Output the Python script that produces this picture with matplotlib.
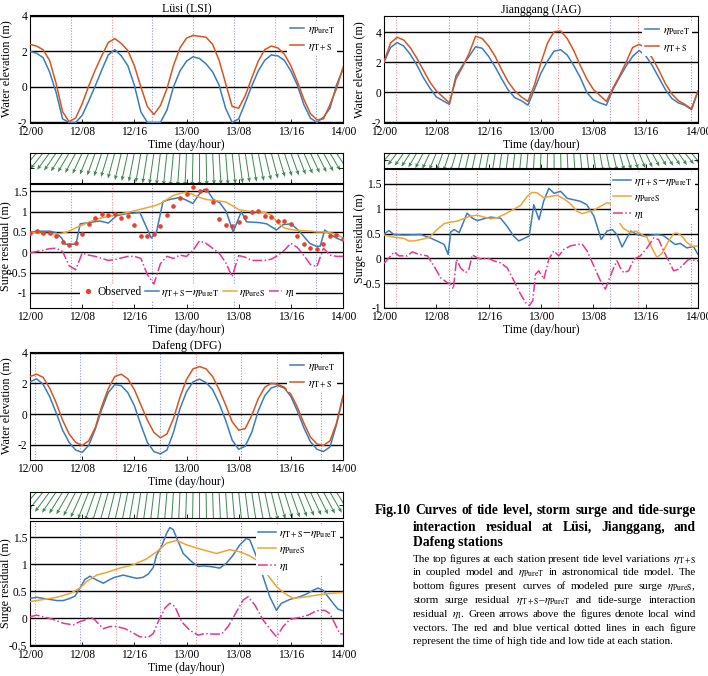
import matplotlib
matplotlib.use('Agg')
import matplotlib.pyplot as plt

plt.rcParams['font.family'] = ['Liberation Serif', 'DejaVu Serif']
plt.rcParams['mathtext.fontset'] = 'stix'
plt.rcParams['axes.unicode_minus'] = False

# ---------------- data ----------------
HOURS = list(range(49))
XTICKS = [0, 8, 16, 24, 32, 40, 48]
XTICKLABELS = ['12/00', '12/08', '12/16', '13/00', '13/08', '13/16', '14/00']

# Lusi tide
lusi_pureT = [2.0,1.9,1.65,0.85,-0.3,-1.8,-2.0,-2.0,-1.6,-0.8,0.05,0.95,1.8,2.1,1.75,1.2,0.1,-1.4,-2.0,-2.0,
              -2.0,-1.3,0.0,0.9,1.45,1.7,1.6,1.3,0.85,0.1,-1.2,-2.0,-1.8,-0.9,0.05,0.9,1.5,1.8,1.75,1.5,
              0.9,0.1,-1.0,-1.75,-2.0,-1.7,-1.2,0.1,1.0]
lusi_TS = [2.4,2.3,2.1,1.5,0.2,-1.4,-1.95,-1.75,-0.95,0.05,0.95,1.75,2.5,2.72,2.45,2.05,1.2,0.0,-1.1,-1.55,
           -1.05,-0.1,1.2,2.2,2.75,2.9,2.85,2.8,2.4,1.5,0.2,-1.1,-1.2,-0.5,0.5,1.45,2.1,2.3,2.2,1.85,
           1.2,0.3,-0.7,-1.5,-1.85,-1.8,-1.0,-0.1,1.1]
lusi_high = [12.5, 25.0, 37.6]
lusi_low = [6.3, 18.7, 31.3, 43.8]

# Lusi surge
lusi_res_t = [0,1.0,3.1,4.0,4.85,5.4,7.05,7.7,9.0,10.7,12.0,13.3,14.8,16.85,17.9,18.6,19.4,20.4,21.45,23.0,
              24.0,25.0,25.8,26.7,27.3,28.1,29.1,30.1,31.15,32.4,33.2,35.2,36.3,37.8,38.8,40.1,41.4,42.9,43.9,44.5,
              45.2,46.0,47.0,48.0]
lusi_res = [0.48,0.52,0.52,0.48,0.35,0.2,0.2,0.7,0.73,0.77,0.72,0.9,0.95,0.98,0.6,0.35,0.5,1.25,1.3,1.35,
            1.28,1.2,1.4,1.55,1.5,1.3,1.22,1.0,0.5,1.0,0.75,0.73,0.7,0.55,0.68,0.7,0.5,0.22,0.15,0.15,
            0.55,0.45,0.35,0.28]
lusi_pureS = [0.48,0.48,0.47,0.46,0.45,0.47,0.52,0.6,0.67,0.74,0.8,0.85,0.88,0.92,0.95,0.98,1.02,1.06,1.1,1.14,
              1.2,1.3,1.4,1.45,1.48,1.42,1.35,1.3,1.28,1.26,1.24,1.15,1.05,1.02,1.0,1.0,0.98,0.92,0.72,0.6,
              0.56,0.54,0.53,0.52,0.5,0.5,0.48,0.45,0.35]
lusi_I = [-0.02,0.02,0.05,0.09,0.1,0.02,-0.33,-0.43,-0.02,-0.07,-0.1,-0.15,-0.2,-0.18,-0.14,-0.1,-0.1,-0.15,-0.55,-0.78,
          -0.28,-0.1,-0.15,-0.07,-0.1,0.05,0.28,0.22,0.1,-0.02,-0.25,-0.6,-0.08,-0.12,-0.2,-0.2,-0.2,-0.17,-0.08,0.05,
          0.22,0.12,-0.08,-0.3,-0.35,0.1,-0.07,-0.1,-0.1]
lusi_obs = [0.48,0.52,0.47,0.47,0.39,0.25,0.18,0.23,0.44,0.70,0.84,0.93,0.92,0.93,0.85,0.89,0.66,0.41,0.41,0.45,
            0.65,0.91,1.14,1.34,1.44,1.60,1.51,1.54,1.23,0.81,0.67,0.65,0.74,0.88,1.0,1.01,0.90,0.88,0.77,0.77,
            0.70,0.40,0.20,0.10,0.07,0.20,0.40,0.43,0.33]
lusi_wind_u = [-8,-8,-8,-7.8,-7.5,-7.3,-7,-6.5,-6,-5.5,-5,-4.8,-4.5,-4.3,-4,-3.8,-3.5,-3.2,-3,-2.8,
               -2.5,-2.2,-2,-1.5,-1,-0.5,0,0.5,1,1.2,1.5,2,2.5,2.8,3,3.5,4,4.2,4.5,4.8,
               5,5.2,5.5,5.8,6,6.2,6.5,6.8,7]
lusi_wind_v = [-9,-9.5,-10,-10.5,-11,-11.5,-12,-12.5,-13,-13.5,-14,-14.5,-15,-16,-17,-17.5,-18,-18.5,-19,-19.5,
               -20,-20.5,-21,-21,-21,-21,-21,-20.5,-20,-20,-20,-19.5,-19,-18.5,-18,-17.5,-17,-16,-15,-14.5,
               -14,-13.5,-13,-12.5,-12,-11.5,-11,-10.5,-10]

# Jianggang tide
jag_pureT = [2.0,3.0,3.33,3.1,2.55,1.85,1.0,0.3,-0.3,-0.55,-0.8,1.1,1.8,2.4,3.05,2.95,2.4,1.7,0.9,0.15,
             -0.35,-0.55,-0.85,0.2,1.3,2.1,2.75,2.85,2.5,1.8,1.0,0.0,-0.5,-0.7,-0.85,0.2,1.0,1.75,2.4,2.8,
             2.45,1.8,1.0,0.2,-0.4,-0.7,-0.85,-1.15,0.1]
jag_TS = [2.05,3.3,3.68,3.5,3.0,2.3,1.5,0.7,0.1,-0.3,-0.7,0.9,1.7,2.6,3.75,3.6,3.1,2.4,1.5,0.7,
          0.1,-0.3,-0.6,0.5,2.0,3.3,4.05,4.1,3.6,2.8,1.8,0.9,0.2,-0.2,-0.6,0.3,1.1,2.0,3.0,3.2,
          3.0,2.3,1.5,0.6,-0.1,-0.55,-0.8,-1.1,0.1]
jag_high = [1.9, 14.25, 26.6, 38.8]
jag_low = [9.9, 22.2, 34.6, 46.9]

# Jianggang surge
jag_res_t = [0,0.76,1.5,3.05,5.6,7.1,8.1,9.2,9.8,10.2,10.7,11.5,12.7,13.5,14.25,15.3,16.3,17.8,18.8,19.8,
             20.6,21.4,22.2,22.9,23.7,24.4,25.2,26.0,27.0,28.0,29.0,30.0,31.0,32.1,33.2,34.1,34.9,35.6,36.4,37.7,
             38.7,39.7,41.7,42.7,43.8,44.5,45.3,46.3,47.3,48.0]
jag_res = [0.49,0.56,0.48,0.47,0.48,0.41,0.35,0.28,0.08,0.53,0.58,0.52,0.91,0.81,0.76,0.8,0.83,0.81,0.65,0.45,
           0.35,0.4,0.45,1.08,0.78,1.15,1.41,1.31,1.35,1.21,1.18,1.15,1.08,0.85,0.38,0.55,0.58,0.48,0.23,0.55,
           0.48,0.45,0.48,0.46,0.35,0.28,0.3,0.21,0.24,0.08]
jag_pureS_t = [0,1.5,3.05,3.8,4.6,5.6,6.9,8.1,9.2,10.2,11.2,12.2,13.2,14.25,15.3,16.3,17.3,18.3,19.3,20.4,
               20.9,21.9,22.65,23.4,24.4,25.45,26.5,27.5,28.5,29.5,30.3,31.0,32.1,33.1,34.1,34.6,35.6,36.6,37.7,38.4,
               39.2,40.2,41.0,41.7,42.5,43.5,44.3,44.8,45.55,46.3,47.1,48.0]
jag_pureS = [0.47,0.43,0.4,0.35,0.35,0.38,0.42,0.58,0.7,0.73,0.75,0.8,0.85,0.87,0.83,0.8,0.82,0.88,0.95,1.03,
             1.07,1.25,1.33,1.32,1.22,1.25,1.27,1.2,1.1,0.95,0.9,0.93,0.97,1.05,1.12,1.1,0.8,0.6,0.52,0.55,
             0.5,0.42,0.2,0.02,0.1,0.35,0.5,0.51,0.45,0.32,0.24,0.25]
jag_I_t = [0,0.76,1.53,2.3,3.56,4.33,5.34,6.62,7.63,8.65,9.67,10.18,10.59,11.09,11.7,12.47,12.98,13.49,14.25,15.01,
           15.78,16.79,17.81,18.83,19.85,20.87,21.63,22.24,22.75,23.16,23.66,24.43,25.19,25.95,26.72,27.48,28.5,29.52,30.28,31.04,
           32.06,33.08,33.84,34.5,35.11,35.62,36.13,36.64,37.4,38.17,39.19,40.2,41.22,41.98,42.75,43.51,44.27,45.04,45.8,46.56,
           47.33,48.0]
jag_I = [-0.1,0.01,0.13,0.05,0.05,0.13,0.08,0.05,-0.15,-0.39,-0.49,-0.51,-0.62,-0.02,-0.19,-0.29,-0.22,0.07,0.01,-0.02,
         0.01,-0.05,-0.09,-0.19,-0.45,-0.72,-0.89,-0.95,-0.85,-0.32,-0.25,-0.42,-0.02,0.15,0.05,0.18,0.25,0.28,0.29,0.15,
         -0.15,-0.45,-0.62,-0.39,-0.19,-0.05,-0.19,-0.29,-0.25,-0.02,0.05,0.21,0.41,0.38,0.15,-0.05,-0.25,-0.22,-0.12,-0.02,
         -0.04,-0.05]
jag_wind_u = [-6,-6,-5.8,-5.6,-5.4,-5.2,-5,-4.7,-4.4,-4.1,-3.8,-3.5,-3.2,-3,-2.8,-2.6,-2.4,-2.2,-2,-1.8,
              -1.6,-1.4,-1.2,-0.9,-0.6,-0.3,0,0.3,0.6,0.9,1.2,1.5,1.8,2.1,2.4,2.7,3,3.3,3.6,3.9,
              4.2,4.5,4.8,5,5.2,5.4,5.6,5.8,6]
jag_wind_v = [-6.5,-7,-7.5,-8,-8.5,-9,-9.5,-10,-10.5,-11,-11.5,-12,-12.5,-13,-13,-13.5,-13.5,-14,-14,-14,
              -14,-14,-14,-14,-14,-14,-14,-13.5,-13.5,-13,-13,-12.5,-12.5,-12,-12,-11.5,-11,-10.5,-10,-9.5,
              -9,-8.5,-8,-8,-7.5,-7.5,-7,-7,-6.5]

# Dafeng tide
dfg_pureT = [2.1,2.3,1.95,1.15,0.1,-1.05,-1.85,-2.35,-2.5,-2.05,-1.0,0.3,1.4,1.92,1.85,1.4,0.55,-0.7,-1.85,-2.45,
             -2.6,-2.35,-1.2,0.35,1.45,2.1,2.28,2.05,1.6,0.7,-0.4,-1.7,-2.3,-2.1,-1.2,0.2,1.2,1.7,1.85,1.7,
             1.15,0.2,-0.9,-1.8,-2.3,-2.45,-2.15,-0.7,1.1]
dfg_TS = [2.45,2.6,2.4,1.7,0.75,-0.4,-1.3,-1.85,-2.05,-1.75,-0.9,0.5,1.65,2.45,2.6,2.3,1.6,0.6,-0.4,-1.2,
          -1.55,-1.3,-0.3,1.1,2.25,2.95,3.1,2.95,2.45,1.6,0.6,-0.5,-1.05,-0.95,-0.1,1.0,1.75,2.0,1.95,1.75,
          1.3,0.45,-0.6,-1.5,-1.95,-2.05,-1.75,-0.6,1.2]
dfg_high = [0.8, 13.2, 25.5, 37.9]
dfg_low = [7.7, 20.0, 32.3, 44.7]

# Dafeng surge
dfg_res_t = [0,1.02,2.04,3.06,4.09,5.11,6.13,6.89,7.66,8.43,9.19,10.21,11.24,12.26,13.02,14.3,15.32,16.34,17.36,18.13,
             18.9,19.41,20.17,20.94,21.45,21.96,22.73,23.49,24.77,25.79,26.56,27.58,29.11,30.13,31.15,32.18,33.2,33.71,34.73,35.75,
             36.77,37.79,38.56,39.84,41.37,42.39,43.41,44.18,44.94,45.71,46.48,47.24,48.0]
dfg_res = [0.37,0.39,0.37,0.35,0.33,0.33,0.37,0.41,0.56,0.72,0.78,0.71,0.65,0.72,0.76,0.8,0.77,0.74,0.76,0.82,
           0.94,1.17,1.33,1.57,1.68,1.64,1.42,1.2,1.05,0.96,0.97,0.96,0.93,1.02,1.17,1.36,1.48,1.45,1.14,0.77,
           0.4,0.15,0.28,0.35,0.4,0.45,0.52,0.56,0.52,0.4,0.28,0.17,0.14]
dfg_pureS_t = [0,2.04,4.09,6.13,7.66,8.68,10.21,11.75,13.79,15.83,17.88,19.41,20.94,22.47,24.0,25.54,27.07,28.6,30.64,32.18,
               33.45,34.73,36.26,37.79,39.07,40.35,41.88,43.92,45.97,48.0]
dfg_pureS = [0.31,0.35,0.39,0.46,0.56,0.68,0.8,0.85,0.93,0.99,1.1,1.23,1.39,1.44,1.36,1.3,1.25,1.2,1.27,1.23,
             1.17,1.08,0.83,0.59,0.46,0.37,0.39,0.43,0.46,0.48]
dfg_I_t = [0,1.02,2.04,3.58,5.11,6.64,7.66,8.43,9.19,9.96,11.24,12.26,13.28,14.56,15.83,16.85,18.13,18.9,19.66,20.68,
           21.45,22.22,23.24,24.51,25.79,26.81,28.09,29.37,30.39,31.66,32.69,33.45,34.47,35.75,36.77,37.79,38.82,39.84,41.37,42.65,
           43.92,45.2,45.97,46.73,47.5,48.0]
dfg_I = [0.03,0.06,0.03,-0.02,-0.09,-0.12,-0.06,-0.03,0.03,-0.03,-0.19,-0.15,-0.15,-0.19,-0.27,-0.34,-0.35,-0.28,-0.06,0.19,
         0.28,0.22,-0.06,-0.22,-0.31,-0.28,-0.29,-0.29,-0.15,0.12,0.34,0.4,0.25,-0.03,-0.19,-0.34,-0.15,-0.02,0.02,0.06,
         0.14,0.15,0.09,-0.09,-0.28,-0.29]
dfg_wind_u = [-10,-10,-9.6,-9.2,-8.8,-8.4,-8,-7.6,-7.2,-6.8,-6.4,-6,-5.6,-5.2,-4.8,-4.4,-4,-3.6,-3.2,-2.8,
              -2.4,-2,-1.6,-1.2,-0.8,-0.4,0,0.4,0.8,1.2,1.6,2,2.4,2.8,3.2,3.6,4,4.4,4.8,5.2,
              5.6,6,6.4,6.8,7,7.2,7.4,7.6,7.8]
dfg_wind_v = [-11,-11.5,-12,-12.5,-13,-13.5,-14,-15,-16,-17,-18,-19,-20,-21,-21.5,-22,-22.5,-23,-23.5,-24,
              -24,-24.5,-24.5,-25,-25,-25,-25,-24.5,-24.5,-24,-24,-23.5,-23,-22,-21,-20,-19,-18,-17,-16.5,
              -16,-15.5,-15,-14.5,-14,-13.5,-13,-12.5,-12]

# ---------------- style ----------------
W, H = 708, 676
C_PT = '#3a7cc0'
C_TS = '#d9541e'
C_PS = '#f2a430'
C_I = '#e8368f'
C_OBS = '#e8402a'
C_WIND = '#3f8a52'
C_HI = '#f08c8c'
C_LO = '#8c98e0'
FS = 8.3
YLAB_X = -0.058
WIND_GAIN = 1.6   # drawn arrow length per wind unit (style)

fig = plt.figure(figsize=(W / 100, H / 100), dpi=100)
fig.patch.set_facecolor('white')


def ax_px(l, t, r, b):
    return fig.add_axes([l / W, 1 - b / H, (r - l) / W, (b - t) / H])


def style_axis(ax, ylim, yticks, xlabel=True):
    ax.set_xlim(0, 48)
    ax.set_ylim(*ylim)
    ax.set_xticks(XTICKS)
    ax.set_xticklabels(XTICKLABELS)
    ax.set_yticks(yticks)
    ax.set_yticklabels([('%g' % v) for v in yticks])
    ax.tick_params(direction='in', length=3, width=0.6, labelsize=FS, pad=2, top=False, right=False)
    for s in ax.spines.values():
        s.set_linewidth(0.8)
    if xlabel:
        ax.set_xlabel('Time (day/hour)', fontsize=FS + 0.2, labelpad=1)
    for v in yticks:
        ax.axhline(v, color='black', lw=1.0, zorder=1)


def vlines(ax, highs, lows):
    for t in highs:
        ax.axvline(t, color=C_HI, ls=(0, (1, 1.5)), lw=0.8, zorder=0.5)
    for t in lows:
        ax.axvline(t, color=C_LO, ls=(0, (1, 1.5)), lw=0.8, zorder=0.5)


def tide_panel(rect, title, pureT, ts, ylim, highs, lows):
    ax = ax_px(*rect)
    style_axis(ax, ylim, [-2, 0, 2, 4])
    vlines(ax, highs, lows)
    ax.plot(HOURS, pureT, color=C_PT, lw=1.1, label=r'$\eta_{\mathrm{PureT}}$', zorder=3)
    ax.plot(HOURS, ts, color=C_TS, lw=1.1, label=r'$\eta_{\mathrm{T+S}}$', zorder=3)
    ax.set_title(title, fontsize=FS + 0.3, pad=2)
    ax.set_ylabel('Water elevation (m)', fontsize=FS + 0.4)
    ax.yaxis.set_label_coords(YLAB_X, 0.5)
    leg = ax.legend(loc='upper right', fontsize=FS, frameon=True, facecolor='white', edgecolor='none',
                    framealpha=1, handlelength=1.3, handletextpad=0.3, labelspacing=0.35,
                    borderpad=0.2, borderaxespad=0.5)
    leg.set_zorder(5)
    return ax


def wind_panel(rect, u, v):
    ax = ax_px(*rect)
    ax.set_xlim(0, 48)
    ax.set_ylim(0, 1)
    ax.set_xticks(XTICKS)
    ax.set_xticklabels([])
    ax.set_yticks([0.5])
    ax.set_yticklabels([])
    ax.tick_params(direction='in', length=3, width=0.6, top=False, right=True)
    for s in ax.spines.values():
        s.set_linewidth(0.8)
    px_w = rect[2] - rect[0]
    px_h = rect[3] - rect[1]
    ud = [uu * WIND_GAIN * 48.0 / px_w for uu in u]
    vd = [vv * WIND_GAIN / px_h for vv in v]
    ax.quiver(HOURS, [1.0] * len(HOURS), ud, vd, angles='xy', scale_units='xy', scale=1,
              color=C_WIND, width=0.0032, headwidth=4.0, headlength=5.0, headaxislength=4.3,
              pivot='tail')
    return ax


# ---------------- Lusi ----------------
tide_panel((30, 15, 343, 123), 'Lüsi (LSI)', lusi_pureT, lusi_TS, (-2.03, 4.05), lusi_high, lusi_low)
wind_panel((30, 153, 343, 183), lusi_wind_u, lusi_wind_v)
ax = ax_px(30, 184, 343, 308)
yl = (-1.37, 1.68)
style_axis(ax, yl, [-1, -0.5, 0, 0.5, 1, 1.5])
vlines(ax, lusi_high, lusi_low)
ax.set_ylabel('Surge residual (m)', fontsize=FS + 0.4)
ax.yaxis.set_label_coords(YLAB_X, 0.5)
LBL_RES = r'$\eta_{\mathrm{T+S}}{-}\eta_{\mathrm{PureT}}$'
ax.plot(HOURS, lusi_obs, ls='none', marker='o', ms=2.3, color=C_OBS, label='Observed', zorder=4)
ax.plot(lusi_res_t, lusi_res, color=C_PT, lw=1.1, label=LBL_RES, zorder=3)
ax.plot(HOURS, lusi_pureS, color=C_PS, lw=1.1, label=r'$\eta_{\mathrm{PureS}}$', zorder=3)
ax.plot(HOURS, lusi_I, color=C_I, lw=1.1, ls='-.', label=r'$\eta_{\mathrm{I}}$', zorder=3)
leg = ax.legend(loc='center', bbox_to_anchor=(0.505, (-1 - yl[0]) / (yl[1] - yl[0])), ncol=4, fontsize=FS,
                frameon=True, facecolor='white', edgecolor='none', framealpha=1, handlelength=1.2,
                handletextpad=0.2, columnspacing=0.3, borderpad=0.1, markerscale=1.2)
leg.set_zorder(5)

# ---------------- Jianggang ----------------
tide_panel((384, 16, 698, 123), 'Jianggang (JAG)', jag_pureT, jag_TS, (-2.04, 5.1), jag_high, jag_low)
wind_panel((384, 153, 698, 168), jag_wind_u, jag_wind_v)
ax = ax_px(384, 169, 698, 308)
style_axis(ax, (-1.0, 1.8), [-1, -0.5, 0, 0.5, 1, 1.5])
vlines(ax, jag_high, jag_low)
ax.set_ylabel('Surge residual (m)', fontsize=FS + 0.4)
ax.yaxis.set_label_coords(YLAB_X, 0.5)
ax.plot(jag_res_t, jag_res, color=C_PT, lw=1.1, label=LBL_RES, zorder=3)
ax.plot(jag_pureS_t, jag_pureS, color=C_PS, lw=1.1, label=r'$\eta_{\mathrm{PureS}}$', zorder=3)
ax.plot(jag_I_t, jag_I, color=C_I, lw=1.1, ls='-.', label=r'$\eta_{\mathrm{I}}$', zorder=3)
leg = ax.legend(loc='upper right', fontsize=FS, frameon=True, facecolor='white', edgecolor='none',
                framealpha=1, handlelength=1.5, handletextpad=0.3, labelspacing=0.3, borderpad=0.2,
                borderaxespad=0.3)
leg.set_zorder(5)

# ---------------- Dafeng ----------------
tide_panel((30, 352, 343, 460), 'Dafeng (DFG)', dfg_pureT, dfg_TS, (-3.0, 4.05), dfg_high, dfg_low)
wind_panel((30, 492, 343, 518), dfg_wind_u, dfg_wind_v)
ax = ax_px(30, 521, 343, 646)
style_axis(ax, (-0.51, 1.8), [-0.5, 0, 0.5, 1, 1.5])
vlines(ax, dfg_high, dfg_low)
ax.set_ylabel('Surge residual (m)', fontsize=FS + 0.4)
ax.yaxis.set_label_coords(YLAB_X, 0.5)
ax.plot(dfg_res_t, dfg_res, color=C_PT, lw=1.1, label=LBL_RES, zorder=3)
ax.plot(dfg_pureS_t, dfg_pureS, color=C_PS, lw=1.1, label=r'$\eta_{\mathrm{PureS}}$', zorder=3)
ax.plot(dfg_I_t, dfg_I, color=C_I, lw=1.1, ls='-.', label=r'$\eta_{\mathrm{I}}$', zorder=3)
leg = ax.legend(loc='upper right', fontsize=FS, frameon=True, facecolor='white', edgecolor='none',
                framealpha=1, handlelength=1.5, handletextpad=0.3, labelspacing=0.3, borderpad=0.2,
                borderaxespad=0.3)
leg.set_zorder(5)

# ---------------- caption ----------------
renderer = fig.canvas.get_renderer()


def put_line(text, x0, x1, y, justify, **kw):
    yb = 1 - (y + 4) / H
    if not justify:
        fig.text(x0 / W, yb, text, ha='left', va='baseline', **kw)
        return
    words = text.split(' ')
    objs = [fig.text(x0 / W, yb, w, ha='left', va='baseline', **kw) for w in words]
    ws = [o.get_window_extent(renderer).width for o in objs]
    gap = ((x1 - x0) - sum(ws)) / (len(words) - 1)
    x = x0
    for o, w in zip(objs, ws):
        o.set_x(x / W)
        x += w + gap


head_kw = dict(fontsize=9.8, fontweight='bold')
put_line('Fig.10 Curves of tide level, storm surge and tide-surge', 375, 696, 510, True, **head_kw)
put_line('interaction residual at Lüsi, Jianggang, and', 413, 696, 527, True, **head_kw)
put_line('Dafeng stations', 413, 696, 542, False, **head_kw)

body_kw = dict(fontsize=8.0)
body = [
    r'The top figures at each station present tide level variations $\eta_{\mathrm{T+S}}$',
    r'in coupled model and $\eta_{\mathrm{PureT}}$ in astronomical tide model. The',
    r'bottom figures present curves of modeled pure surge $\eta_{\mathrm{PureS}}$,',
    r'storm surge residual $\eta_{\mathrm{T+S}}$–$\eta_{\mathrm{PureT}}$ and tide-surge interaction',
    r'residual $\eta_{\mathrm{I}}$. Green arrows above the figures denote local wind',
    r'vectors. The red and blue vertical dotted lines in each figure',
    r'represent the time of high tide and low tide at each station.',
]
ys = [558, 571, 585, 599, 613, 627, 640]
for i, (line, y) in enumerate(zip(body, ys)):
    put_line(line, 413, 696, y, i < len(body) - 1, **body_kw)

fig.savefig('out.png', dpi=100)
